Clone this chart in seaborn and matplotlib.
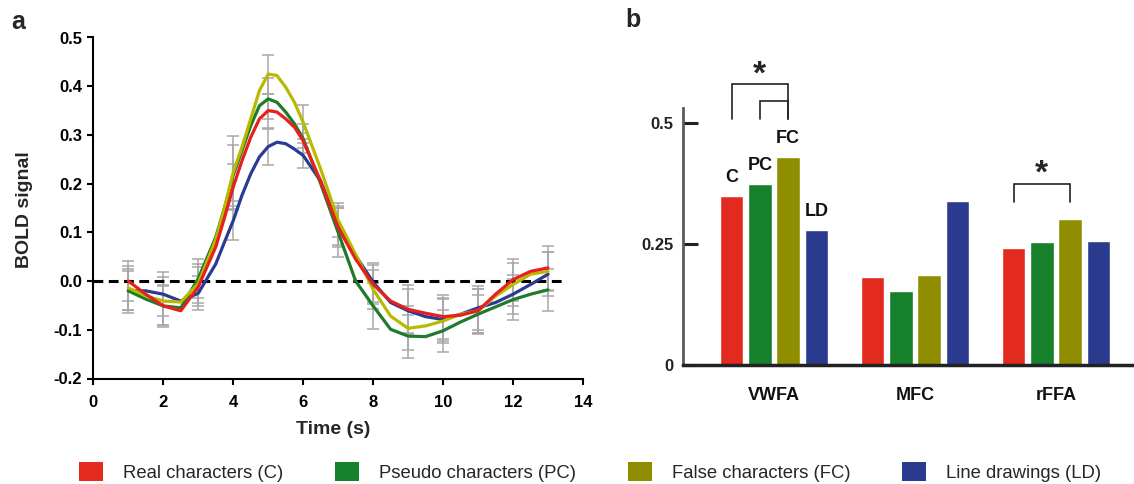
import matplotlib.pyplot as plt
import pandas as pd
import seaborn as sns
from matplotlib.patches import Patch

# time course (s), denser around the peak
TIME = [1, 1.5, 2, 2.5, 3, 3.5, 3.75, 4, 4.25, 4.5, 4.75, 5, 5.25, 5.5, 5.75,
        6, 6.5, 7, 7.5, 8, 8.5, 9, 9.5, 10, 10.5, 11, 11.5, 12, 12.5, 13]
REAL = [0.0, -0.027, -0.051, -0.061, -0.012, 0.07, 0.13, 0.193, 0.247, 0.295, 0.333,
        0.35, 0.347, 0.333, 0.316, 0.288, 0.205, 0.11, 0.045, -0.007, -0.041, -0.058,
        -0.066, -0.073, -0.07, -0.061, -0.027, 0.003, 0.02, 0.027]
PSEUDO = [-0.02, -0.037, -0.051, -0.055, 0.005, 0.09, 0.15, 0.217, 0.268, 0.319, 0.36,
          0.374, 0.367, 0.347, 0.323, 0.292, 0.2, 0.1, 0.0, -0.051, -0.099, -0.113,
          -0.114, -0.102, -0.084, -0.068, -0.053, -0.038, -0.027, -0.018]
FALSE = [-0.014, -0.03, -0.041, -0.043, -0.005, 0.085, 0.15, 0.223, 0.275, 0.333, 0.391,
         0.425, 0.422, 0.398, 0.367, 0.326, 0.23, 0.125, 0.055, -0.017, -0.072, -0.097,
         -0.092, -0.082, -0.068, -0.061, -0.031, -0.007, 0.014, 0.02]
DRAWINGS = [-0.02, -0.02, -0.027, -0.041, -0.025, 0.035, 0.08, 0.124, 0.176, 0.22, 0.255,
            0.276, 0.285, 0.282, 0.271, 0.258, 0.205, 0.115, 0.052, -0.002, -0.044, -0.061,
            -0.073, -0.079, -0.068, -0.055, -0.044, -0.027, -0.007, 0.014]

# error bars at the whole seconds 1..13
REAL_ERR = [0.041, 0.04, 0.04, 0.048, 0.035, 0.015, 0.04, 0.04, 0.05, 0.045, 0.045, 0.043, 0.045]
PSEUDO_ERR = [0.045, 0.043, 0.04, 0.062, 0.042, 0.03, 0.05, 0.047, 0.044, 0.043, 0.04, 0.042, 0.043]
FALSE_ERR = [0.045, 0.05, 0.04, 0.075, 0.04, 0.035, 0.035, 0.04, 0.045, 0.045, 0.045, 0.045, 0.04]
DRAWINGS_ERR = [0.04, 0.045, 0.035, 0.04, 0.037, 0.025, 0.04, 0.04, 0.045, 0.045, 0.045, 0.04, 0.045]

# panel b
REGIONS = ["VWFA", "MFC", "rFFA"]
BAR_C = [0.35, 0.181, 0.242]
BAR_PC = [0.374, 0.152, 0.254]
BAR_FC = [0.43, 0.186, 0.302]
BAR_LD = [0.279, 0.338, 0.256]

CONDS = ["C", "PC", "FC", "LD"]
LEGEND_LABELS = ["Real characters (C)", "Pseudo characters (PC)",
                 "False characters (FC)", "Line drawings (LD)"]
LINE_COLORS = {"C": "#E6201E", "PC": "#1E7B2A", "FC": "#B8BA00", "LD": "#2B3A92"}
BAR_COLORS = {"C": "#E32A1E", "PC": "#17802A", "FC": "#8E8E00", "LD": "#2A3A8E"}

W, H = 1134, 484

sns.set_theme(style="ticks")
plt.rcParams["font.family"] = ["Liberation Sans", "DejaVu Sans"]
plt.rcParams["axes.unicode_minus"] = False

curves = pd.DataFrame({
    "time": TIME * 4,
    "signal": REAL + PSEUDO + FALSE + DRAWINGS,
    "cond": [c for c in CONDS for _ in TIME],
})
errs = dict(zip(CONDS, [REAL_ERR, PSEUDO_ERR, FALSE_ERR, DRAWINGS_ERR]))
bars = pd.DataFrame({
    "region": REGIONS * 4,
    "value": BAR_C + BAR_PC + BAR_FC + BAR_LD,
    "cond": [c for c in CONDS for _ in REGIONS],
})

fig = plt.figure(figsize=(W / 100, H / 100), dpi=100)
ax_a = fig.add_axes([93.3 / W, 1 - 378.5 / H, 489.7 / W, 341 / H])
ax_b = fig.add_axes([683 / W, 1 - 365 / H, 1 - 683 / W, 257 / H])

# ---- panel a ----
for cond in ["LD", "PC", "FC", "C"]:
    sub = curves[curves["cond"] == cond]
    whole = sub[sub["time"] % 1 == 0]
    ax_a.errorbar(whole["time"], whole["signal"], yerr=errs[cond], fmt="none",
                  ecolor="#a8a8a8", elinewidth=1.1, capsize=4, capthick=1.1, zorder=1)
sns.lineplot(data=curves, x="time", y="signal", hue="cond",
             hue_order=["LD", "PC", "FC", "C"], palette=LINE_COLORS,
             linewidth=2.3, legend=False, errorbar=None, ax=ax_a, zorder=3,
             solid_joinstyle="round", solid_capstyle="round")
ax_a.hlines(0, 0, 13.4, colors="black", linestyles=(0, (3.2, 1.8)), linewidth=2.2, zorder=2)

ax_a.set_xlim(0, 14)
ax_a.set_ylim(-0.2, 0.5)
ax_a.set_xticks(range(0, 15, 2))
ax_a.set_yticks([-0.2, -0.1, 0, 0.1, 0.2, 0.3, 0.4, 0.5])
ax_a.set_yticklabels([f"{v:.1f}" for v in ax_a.get_yticks()])
for side in ["top", "right"]:
    ax_a.spines[side].set_visible(False)
for side in ["left", "bottom"]:
    ax_a.spines[side].set_linewidth(1.5)
    ax_a.spines[side].set_color("black")
ax_a.tick_params(direction="out", length=4, width=1.5, colors="black", labelsize=12)
ax_a.tick_params(axis="x", pad=8)
ax_a.tick_params(axis="y", pad=4)
for lab in ax_a.get_xticklabels() + ax_a.get_yticklabels():
    lab.set_fontweight("bold")
ax_a.set_xlabel("Time (s)", fontsize=14, fontweight="bold")
ax_a.set_ylabel("BOLD signal", fontsize=14, fontweight="bold")
ax_a.xaxis.label.set_va("center")
ax_a.yaxis.label.set_va("center")
ax_a.xaxis.set_label_coords(0.49, -0.151)
ax_a.yaxis.set_label_coords(-0.1395, 0.494)

# ---- panel b ----
sns.barplot(data=bars, x="region", y="value", hue="cond", order=REGIONS,
            hue_order=CONDS, palette=BAR_COLORS, saturation=1, width=0.8,
            gap=0.17, errorbar=None, legend=False, ax=ax_b)
ax_b.set_xlim(-0.645, 2.553)
ax_b.set_ylim(0, 0.531)
ax_b.set_yticks([0, 0.25, 0.5])
ax_b.set_yticklabels(["0", "0.25", "0.5"])
ax_b.set_xlabel("")
ax_b.set_ylabel("")
for side in ["top", "right"]:
    ax_b.spines[side].set_visible(False)
ax_b.spines["left"].set_linewidth(2)
ax_b.spines["left"].set_color("#5a5a5a")
ax_b.spines["bottom"].set_linewidth(2.5)
ax_b.spines["bottom"].set_color("#222222")
ax_b.tick_params(axis="y", direction="in", length=11, width=2.2, colors="#222222",
                 labelsize=12, pad=7)
ax_b.tick_params(axis="x", length=0, labelsize=13, pad=16, colors="#111111")
for lab in ax_b.get_xticklabels() + ax_b.get_yticklabels():
    lab.set_fontweight("bold")

# bar centres from the drawn patches: patches come grouped by hue
centres = {}
heights = {}
for k, patch in enumerate(ax_b.patches[:len(CONDS) * len(REGIONS)]):
    cond = CONDS[k // len(REGIONS)]
    region = REGIONS[k % len(REGIONS)]
    centres[(cond, region)] = patch.get_x() + patch.get_width() / 2
    heights[(cond, region)] = patch.get_height()

for cond in CONDS:
    ax_b.text(centres[(cond, "VWFA")], heights[(cond, "VWFA")] + 0.038, cond,
              ha="center", va="center", fontsize=13, fontweight="bold", color="#111111")


def bracket(x0, x1, top, bottom):
    ax_b.plot([x0, x0, x1, x1], [bottom, top, top, bottom], color="#222222",
              linewidth=1.2, clip_on=False, solid_joinstyle="miter")


bracket(centres[("C", "VWFA")], centres[("FC", "VWFA")], 0.58, 0.508)
bracket(centres[("PC", "VWFA")], centres[("FC", "VWFA")], 0.545, 0.508)
ax_b.text((centres[("C", "VWFA")] + centres[("FC", "VWFA")]) / 2, 0.6, "*",
          ha="center", va="center", fontsize=24, fontweight="bold", clip_on=False)
bracket(centres[("C", "rFFA")], centres[("FC", "rFFA")], 0.374, 0.337)
ax_b.text((centres[("C", "rFFA")] + centres[("FC", "rFFA")]) / 2, 0.394, "*",
          ha="center", va="center", fontsize=24, fontweight="bold")

# panel letters
fig.text(18 / W, 1 - 22 / H, "a", fontsize=18, fontweight="bold", ha="center", va="center")
fig.text(633 / W, 1 - 20 / H, "b", fontsize=18, fontweight="bold", ha="center", va="center")

handles = [Patch(facecolor=BAR_COLORS[c], edgecolor="none") for c in CONDS]
fig.legend(handles, LEGEND_LABELS, loc="center", bbox_to_anchor=(590 / W, 1 - 472 / H),
           ncol=4, frameon=False, fontsize=13.3, handlelength=1.3, handleheight=1.15,
           handletextpad=1.08, columnspacing=2.8)

fig.savefig("out.png", dpi=100)
